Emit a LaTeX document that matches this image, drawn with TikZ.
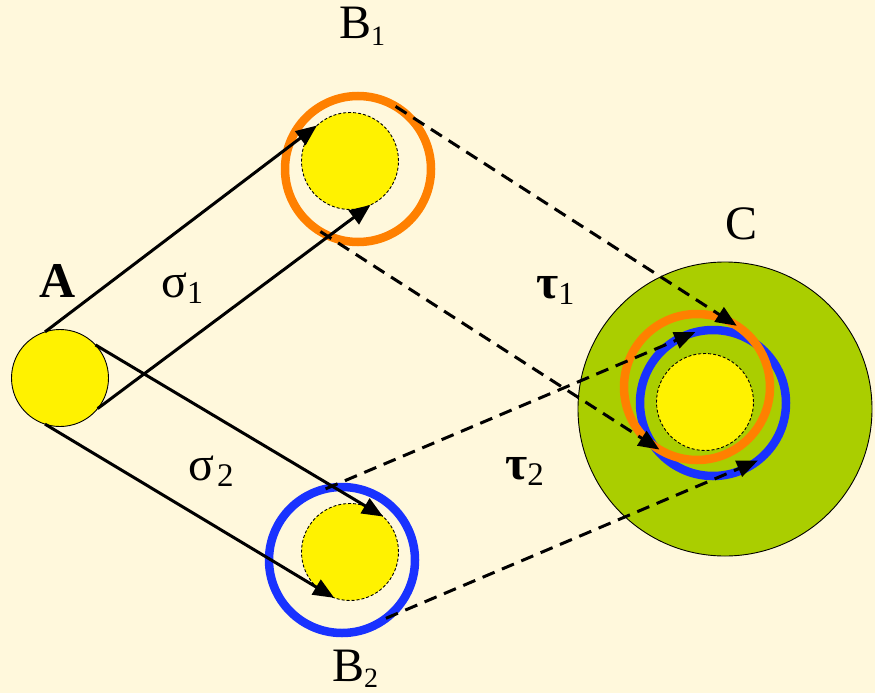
\documentclass[tikz,border=0pt]{standalone}
\usepackage{fontspec}
\setmainfont{Liberation Serif}
\usetikzlibrary{arrows.meta}
\definecolor{cream}{RGB}{255,248,220}
\definecolor{ringorange}{RGB}{255,128,0}
\definecolor{ringblue}{RGB}{25,50,255}
\definecolor{leafgreen}{RGB}{170,206,0}
\newcommand{\lowidx}[2][28]{\raisebox{-6pt}{\fontsize{#1}{#1}\selectfont\mdseries#2}}
\tikzset{
  disc/.style={circle,fill=yellow,draw=black,line width=.9pt,inner sep=0pt,outer sep=0pt,minimum size=97pt},
  ring/.style={circle,draw=#1,line width=8.5pt,inner sep=0pt,outer sep=0pt,minimum size=146pt},
  map/.style={line width=3pt,-{Triangle[length=21pt,width=17pt]}},
  tau/.style={map,dash pattern=on 13pt off 8pt},
  lbl/.style={anchor=base west,inner sep=0pt,font=\fontsize{48}{48}\selectfont}
}
\begin{document}
\begin{tikzpicture}[x=1pt,y=-1pt]
\useasboundingbox[fill=cream] (0,0) rectangle (875,693);
\node[circle,fill=leafgreen,draw,line width=.9pt,inner sep=0pt,minimum size=294pt] (C) at (725,409) {};
\node[disc,dash pattern=on 3pt off 2pt] (c) at (705,402) {};
\node[ring=ringblue] (cb) at (713,403) {};
\node[ring=ringorange] (co) at (697,387) {};
\node[disc,dash pattern=on 3pt off 2pt] (b1) at (350,161) {};
\node[ring=ringorange] (o1) at (358,169) {};
\node[disc,dash pattern=on 3pt off 2pt] (b2) at (350,552) {};
\node[ring=ringblue] (u2) at (342,560) {};
\node[disc] (A) at (60,378) {};
\node[lbl,font=\fontsize{50}{50}\selectfont\bfseries] (Alab) at (39,297) {A};
\node[lbl] (B1lab) at (339,39) {B\lowidx{1}};
\node[lbl] (B2lab) at (332,681) {B\lowidx{2}};
\node[lbl] (Clab) at (725,239) {C};
\node[lbl] (s1) at (161,297) {σ\lowidx[32]{1}};
\node[lbl] (s2) at (188,480) {σ\hspace{3pt}\lowidx[33]{2}};
\node[lbl,font=\fontsize{48}{48}\selectfont\bfseries] (t1) at (536,298) {τ\lowidx[32]{1}};
\node[lbl,font=\fontsize{48}{48}\selectfont\bfseries] (t2) at (505,479) {τ\lowidx[33]{2}};
\draw[map] (A.108) -- (b1.133);
\draw[map] (A.-39) -- (b1.-65);
\draw[map] (A.43) -- (b2.47);
\draw[map] (A.-108) -- (b2.-109);
\draw[tau] (o1.59) -- (co.57);
\draw[tau] (o1.-121) -- (co.-121);
\draw[tau] (u2.103) -- (cb.104);
\draw[tau] (u2.-53) -- (cb.-52);
\end{tikzpicture}
\end{document}
